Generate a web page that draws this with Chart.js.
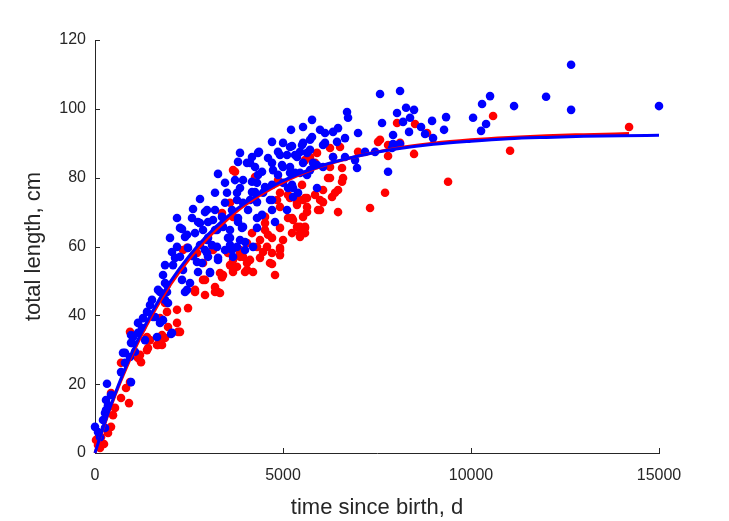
<!DOCTYPE html>
<html>
<head>
<meta charset="utf-8">
<script src="https://cdn.jsdelivr.net/npm/chart.js@4.4.0/dist/chart.umd.min.js"></script>
<style>
    html, body { margin: 0; padding: 0; background: #ffffff; }
    #growthChart { display: block; }
</style>
</head>
<body>
<canvas id="growthChart" width="729" height="521"></canvas>
<script>
// axis ticks
const xTicks = [0, 5000, 10000, 15000];
const yTicks = [0, 20, 40, 60, 80, 100, 120];

// red observations: time since birth (d) and total length (cm)
const redT = [27, 160, 346, 426, 479, 532, 426, 692, 904, 825, 931, 692, 1144, 1224, 1410, 1676, 1729, 2208, 133, 239,
    80, 1862, 1915, 1729, 1782, 1383, 1197, 931, 1463, 1942, 3857, 3671, 4043, 3325, 2926, 3272, 2926, 2660, 2474, 2181,
    2181, 1862, 1383, 1649, 2447, 3591, 2713, 3724, 3591, 3378, 3671, 3139, 3538, 3857, 2341, 2873, 3591, 4043, 3671, 4256,
    4921, 5373, 4921, 5533, 5134, 4522, 4921, 4522, 5453, 4176, 4708, 4389, 5001, 5453, 3857, 4575, 4921, 3671, 4043, 4655,
    3405, 4788, 4203, 3192, 3937, 5187, 5586, 5932, 5240, 5586, 5453, 4522, 4602, 4921, 4921, 4708, 4469, 4309, 4123, 4389,
    3777, 3990, 3671, 4708, 3378, 3192, 3325, 2660, 2261, 1782, 2873, 6251, 6331, 5852, 5719, 6251, 6570, 6251, 6464, 6065,
    5506, 5639, 5134, 4868, 5373, 5985, 4841, 7528, 7794, 8113, 6996, 6517, 5905, 5586, 6198, 6570, 6384, 5852, 5533, 6065,
    6304, 5985, 5639, 6464, 5373, 7315, 7714, 5267, 5373, 5240, 6597, 5639, 5586, 5586, 8033, 8512, 8831, 10587, 7794, 8485,
    11039, 9390, 7581, 14204];
const redL = [3.8, 4.6, 5.8, 7.6, 11.0, 13.1, 17.4, 16.0, 14.5, 18.9, 20.6, 26.2, 27.6, 26.4, 30.5, 31.4, 33.7, 35.2, 1.5, 2.6,
    2.3, 43.6, 41.0, 39.2, 31.4, 29.9, 28.5, 35.2, 32.8, 36.6, 58.1, 53.2, 53.2, 52.3, 50.3, 46.8, 45.9, 46.8, 42.1, 41.6,
    37.8, 33.4, 33.7, 31.4, 59.6, 58.1, 58.1, 81.7, 72.7, 69.7, 68.6, 59.0, 58.1, 57.0, 59.0, 55.2, 54.6, 61.0, 82.2, 80.2,
    75.6, 72.7, 71.5, 68.6, 68.3, 68.6, 65.4, 64.8, 65.7, 63.9, 62.5, 61.9, 61.9, 62.8, 59.0, 59.9, 59.0, 56.1, 55.2, 55.2,
    51.7, 51.7, 52.6, 48.2, 57.0, 74.1, 74.1, 70.6, 68.3, 65.4, 63.9, 66.8, 63.4, 59.6, 57.5, 58.1, 58.4, 59.9, 56.1, 56.7,
    54.1, 52.6, 52.6, 54.9, 51.1, 46.8, 46.5, 47.4, 35.2, 34.3, 50.3, 88.6, 86.0, 84.3, 86.0, 83.1, 82.8, 79.9, 76.4, 76.4,
    77.9, 74.1, 75.0, 79.3, 74.1, 73.5, 73.5, 90.4, 89.5, 90.1, 87.5, 88.9, 87.2, 85.1, 79.9, 78.8, 75.6, 75.0, 73.5, 72.9,
    74.4, 70.6, 70.0, 70.0, 72.1, 71.2, 75.6, 67.7, 65.7, 63.9, 79.9, 71.5, 65.7, 63.9, 95.9, 95.6, 93.0, 97.9, 86.3, 86.9,
    87.8, 78.8, 91.0, 94.7];

// blue observations
const blueT = [0, 80, 133, 213, 266, 293, 346, 293, 426, 319, 692, 798, 745, 931, 958, 958, 1144, 1330, 1649, 2022,
    958, 266, 1516, 1383, 1277, 1543, 1144, 1250, 1011, 984, 798, 1064, 1862, 1729, 2261, 1995, 2447, 2660, 2181, 2048,
    2474, 2979, 3245, 3538, 3777, 3272, 1862, 2075, 2341, 2846, 1809, 2314, 3059, 1915, 2394, 1862, 1596, 1809, 2048, 2793,
    3937, 3857, 3804, 4043, 3272, 3458, 3724, 3857, 3192, 3511, 2793, 3937, 2607, 2979, 3192, 2181, 2580, 2740, 3006, 3378,
    3804, 2314, 2873, 3192, 3591, 2394, 3006, 3857, 2793, 3245, 3591, 3990, 2261, 2607, 3006, 3671, 4336, 4921, 5373, 5639,
    4123, 4442, 4735, 5001, 5453, 3937, 4309, 4708, 5134, 3777, 4176, 4469, 5400, 3458, 4309, 4655, 2926, 3644, 4070, 4708,
    5107, 3139, 3804, 4309, 4788, 3405, 3910, 4309, 3591, 3112, 3990, 4203, 2979, 3272, 3059, 3644, 5267, 2447, 1915, 1942,
    2740, 6703, 6730, 5772, 5533, 5214, 5985, 6118, 6464, 6331, 5772, 6650, 4708, 5001, 5240, 5533, 6118, 6437, 4362, 4868,
    5453, 5719, 4602, 5107, 5320, 4176, 6650, 4256, 4708, 4974, 5187, 5533, 5905, 4336, 4868, 5187, 5719, 4522, 5001, 5267,
    5905, 4256, 4708, 4176, 6996, 7634, 7927, 8033, 7448, 7182, 6916, 6969, 6331, 6065, 5799, 5639, 5320, 5240, 7794, 5187,
    5506, 5719, 6065, 8113, 8273, 8485, 8033, 8193, 8379, 8964, 9337, 8352, 8672, 8778, 8991, 9283, 10055, 10294, 10507, 10401,
    10268, 7927, 8113, 7900, 7581, 11145, 11997, 12662, 12662, 15000,
    2527, 2713, 2128, 1729, 1463, 1676, 2926, 3458, 4123, 4442, 3777];
const blueL = [7.6, 6.1, 4.6, 9.6, 11.6, 12.5, 13.9, 15.4, 16.9, 20.1, 23.5, 26.2, 29.1, 27.9, 32.0, 34.3, 34.9, 32.8, 33.7, 34.6,
    20.6, 7.3, 44.5, 41.0, 39.2, 39.5, 37.8, 36.3, 33.7, 32.0, 29.1, 29.4, 49.4, 37.8, 65.4, 62.5, 63.4, 63.9, 59.9, 58.4,
    59.6, 61.9, 64.8, 62.5, 59.9, 56.1, 54.6, 54.6, 53.2, 55.2, 51.7, 50.3, 52.3, 48.8, 46.8, 44.5, 39.5, 38.6, 34.9, 66.8,
    65.7, 87.2, 84.6, 84.3, 81.1, 78.5, 79.3, 77.0, 75.6, 75.6, 73.8, 72.7, 70.9, 70.6, 70.6, 68.3, 68.3, 67.1, 67.1, 68.6,
    67.1, 65.1, 64.8, 64.8, 64.8, 62.8, 62.5, 61.9, 60.4, 59.9, 60.4, 59.0, 57.0, 57.2, 57.0, 57.0, 87.2, 86.6, 86.0, 87.2,
    84.3, 81.7, 82.2, 83.1, 81.4, 79.3, 78.5, 77.9, 77.0, 75.6, 75.8, 75.6, 75.6, 72.7, 72.9, 73.5, 70.0, 70.6, 70.6, 70.6,
    70.6, 67.7, 68.3, 68.3, 67.1, 65.7, 65.4, 65.4, 62.5, 60.4, 61.3, 59.9, 58.1, 56.7, 52.6, 59.0, 74.4, 47.4, 46.8, 43.6,
    52.6, 99.1, 97.4, 96.8, 94.7, 93.9, 93.9, 93.0, 94.4, 93.3, 91.8, 91.5, 90.4, 90.1, 89.2, 90.1, 90.1, 90.4, 87.5, 87.5,
    87.5, 88.1, 85.7, 86.6, 86.6, 86.0, 86.0, 83.1, 84.3, 83.7, 83.1, 84.3, 83.7, 80.8, 80.8, 81.4, 82.2, 77.3, 78.5, 77.0,
    77.0, 75.8, 73.5, 78.8, 93.0, 95.9, 92.4, 89.5, 87.5, 87.5, 85.1, 82.8, 86.0, 83.1, 84.3, 80.8, 81.4, 77.9, 81.7, 88.9,
    89.5, 91.0, 89.5, 105.2, 100.3, 99.7, 98.8, 96.2, 97.4, 96.5, 97.6, 93.3, 94.7, 92.7, 91.5, 93.9, 97.4, 101.4, 103.7, 95.6,
    93.6, 89.8, 89.8, 88.6, 104.3, 100.8, 103.5, 112.8, 99.7, 100.8,
    49.4, 55.5, 56.7, 46.8, 43.0, 47.4, 59.0, 59.0, 73.5, 69.2, 73.5];

// fitted growth curves
const blueFitT = [0, 250, 500, 750, 1000, 1500, 2000, 2500, 3000, 3500, 4000, 5000, 6000, 7000, 8000, 9000, 10000, 11000, 12000, 13000, 14000, 15000];
const blueFitL = [0, 8.5, 16.2, 23.2, 29.6, 40.6, 49.7, 57.2, 63.4, 68.5, 72.7, 79.1, 83.4, 86.3, 88.3, 89.7, 90.6, 91.3, 91.7, 92.0, 92.2, 92.3];
const redFitT = [0, 250, 500, 750, 1000, 1500, 2000, 2500, 3000, 3500, 4000, 5000, 6000, 7000, 8000, 9000, 10000, 11000, 12000, 13000, 14204];
const redFitL = [0, 8.2, 15.8, 22.6, 28.9, 39.7, 48.8, 56.3, 62.5, 67.7, 72.1, 78.6, 83.2, 86.3, 88.5, 90.0, 91.0, 91.7, 92.2, 92.5, 92.8];

const axisColor = "#262626";
const fontFamily = "'Liberation Sans', Arial, Helvetica, sans-serif";

function toPoints(xs, ys) {
    return xs.map(function (x, i) {
        return { x: x, y: ys[i] };
    });
}

// MATLAB style ticks pointing into the plot
const innerTicks = {
    id: "innerTicks",
    beforeDatasetsDraw: function (chart) {
        const ctx = chart.ctx;
        const xScale = chart.scales.x;
        const yScale = chart.scales.y;
        const area = chart.chartArea;
        ctx.save();
        ctx.strokeStyle = axisColor;
        ctx.lineWidth = 1;
        ctx.beginPath();
        xTicks.forEach(function (v) {
            const px = Math.round(xScale.getPixelForValue(v)) + 0.5;
            ctx.moveTo(px, area.bottom);
            ctx.lineTo(px, area.bottom - 5);
        });
        yTicks.forEach(function (v) {
            const py = Math.round(yScale.getPixelForValue(v)) + 0.5;
            ctx.moveTo(area.left, py);
            ctx.lineTo(area.left + 5, py);
        });
        ctx.stroke();
        ctx.restore();
    },
};

const ctx = document.getElementById("growthChart").getContext("2d");
new Chart(ctx, {
    type: "scatter",
    data: {
        datasets: [
            {
                label: "blue fit",
                data: toPoints(blueFitT, blueFitL),
                showLine: true,
                borderColor: "#0000ff",
                borderWidth: 3,
                pointRadius: 0,
                cubicInterpolationMode: "monotone",
                clip: false,
                order: 0,
            },
            {
                label: "red fit",
                data: toPoints(redFitT, redFitL),
                showLine: true,
                borderColor: "#ff0000",
                borderWidth: 3,
                pointRadius: 0,
                cubicInterpolationMode: "monotone",
                clip: false,
                order: 1,
            },
            {
                label: "blue",
                data: toPoints(blueT, blueL),
                backgroundColor: "#0000ff",
                borderColor: "#0000ff",
                borderWidth: 0,
                pointRadius: 4.3,
                clip: false,
                order: 2,
            },
            {
                label: "red",
                data: toPoints(redT, redL),
                backgroundColor: "#ff0000",
                borderColor: "#ff0000",
                borderWidth: 0,
                pointRadius: 4.3,
                clip: false,
                order: 3,
            },
        ],
    },
    options: {
        responsive: false,
        animation: false,
        devicePixelRatio: 1,
        layout: {
            padding: { top: 40, right: 70, bottom: 0, left: 0 },
        },
        plugins: {
            legend: { display: false },
            tooltip: { enabled: false },
        },
        scales: {
            x: {
                type: "linear",
                min: 0,
                max: 15000,
                afterFit: function (scale) {
                    scale.height = 68;
                },
                afterBuildTicks: function (scale) {
                    scale.ticks = xTicks.map(function (v) { return { value: v }; });
                },
                grid: { display: false, drawTicks: false },
                border: { display: true, color: axisColor, width: 1 },
                ticks: {
                    autoSkip: false,
                    maxRotation: 0,
                    padding: 13,
                    color: axisColor,
                    font: { family: fontFamily, size: 16 },
                    callback: function (value) { return String(value); },
                },
                title: {
                    display: true,
                    text: "time since birth, d",
                    color: axisColor,
                    padding: { top: 0, bottom: 0 },
                    font: { family: fontFamily, size: 22 },
                },
            },
            y: {
                type: "linear",
                min: 0,
                max: 120,
                afterFit: function (scale) {
                    scale.width = 95;
                },
                afterBuildTicks: function (scale) {
                    scale.ticks = yTicks.map(function (v) { return { value: v }; });
                },
                grid: { display: false, drawTicks: false },
                border: { display: true, color: axisColor, width: 1 },
                ticks: {
                    autoSkip: false,
                    padding: 9,
                    color: axisColor,
                    font: { family: fontFamily, size: 16 },
                    callback: function (value) { return String(value); },
                },
                title: {
                    display: true,
                    text: "total length, cm",
                    color: axisColor,
                    padding: { top: 21, bottom: 0 },
                    font: { family: fontFamily, size: 22 },
                },
            },
        },
    },
    plugins: [innerTicks],
});
</script>
</body>
</html>
